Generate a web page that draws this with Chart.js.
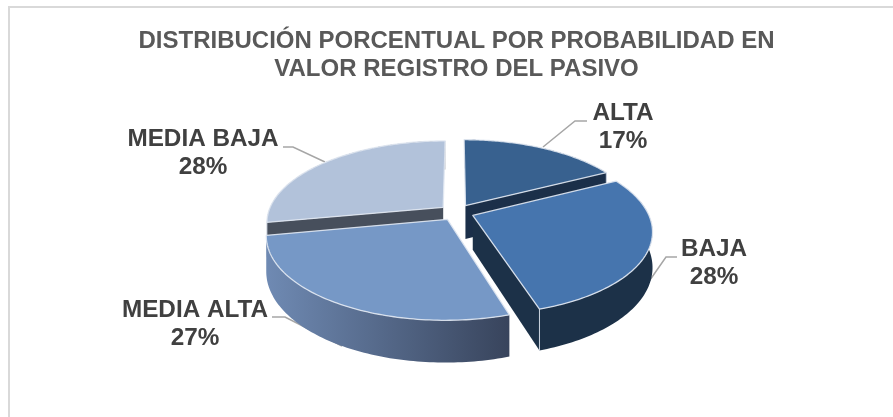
<!DOCTYPE html>
<html>
<head>
<meta charset="utf-8">
<style>
html,body{margin:0;padding:0;background:#fff;width:893px;height:417px;overflow:hidden}
#frame{position:absolute;left:8px;top:6px;right:-4px;bottom:-4px;border-left:2px solid #d9d9d9;border-top:2px solid #d9d9d9;box-sizing:border-box}
#c{position:absolute;left:0;top:0}
</style>
<script src="https://cdn.jsdelivr.net/npm/chart.js@4"></script>
</head>
<body>
<div id="frame"></div>
<canvas id="c" width="893" height="417"></canvas>
<script>
const categories = ["ALTA", "BAJA", "MEDIA ALTA", "MEDIA BAJA"];
const values = [17.4, 27.8, 26.8, 28];
const titleLines = ["DISTRIBUCIÓN PORCENTUAL POR PROBABILIDAD EN", "VALOR REGISTRO DEL PASIVO"];
const topColors = ["#38618f", "#4675ae", "#7698c6", "#b2c2da"];
const sideFrom = ["#1b2f49", "#1c3148", "#6f8ab3", "#474f5c"];
const sideTo = ["#1b2f49", "#1c3148", "#38445c", "#474f5c"];
const drawOrder = [0, 3, 2, 1];
const labelCentres = [[623, 113], [714, 249], [195, 310], [203, 139]];
const leaders = [
  [[587, 121], [575, 121], [543, 147]],
  [[677, 257], [666, 257], [643, 290]],
  [[272, 317], [285, 317], [342, 346]],
  [[283, 147], [293, 147], [325, 162]]
];

const view = {tiltK: 0.18, scaleX: 1.75, scaleY: 0.80, depth: 34};

function projector(arc) {
  const rx = arc.outerRadius * view.scaleX, ry = arc.outerRadius * view.scaleY;
  const mid = (arc.startAngle + arc.endAngle) / 2;
  const e = arc.options.offset / arc.outerRadius;
  const ou = e * Math.cos(mid), ov = e * Math.sin(mid);
  return (u, v, low) => {
    const U = u + ou, V = v + ov;
    const p = 1 / (1 - view.tiltK * V);
    return [arc.x + rx * U * p, arc.y + ry * V * p + (low ? view.depth * p : 0)];
  };
}
function trace(ctx, pts) {
  ctx.beginPath();
  pts.forEach((q, i) => i ? ctx.lineTo(q[0], q[1]) : ctx.moveTo(q[0], q[1]));
  ctx.closePath();
}
function rim(arc, proj, low) {
  const out = [];
  const n = 90;
  for (let i = 0; i <= n; i++) {
    const a = arc.startAngle + (arc.endAngle - arc.startAngle) * i / n;
    out.push(proj(Math.cos(a), Math.sin(a), low));
  }
  return out;
}

const pie3d = {
  id: "pie3d",
  beforeDatasetDraw(chart) {
    const ctx = chart.ctx;
    const arcs = chart.getDatasetMeta(0).data;
    ctx.save();
    ctx.lineJoin = "round";
    drawOrder.forEach(i => {
      const arc = arcs[i], proj = projector(arc);
      const upper = rim(arc, proj, false), lower = rim(arc, proj, true);
      const xs = upper.map(q => q[0]);
      const g = ctx.createLinearGradient(Math.min(...xs), 0, Math.max(...xs), 0);
      g.addColorStop(0, sideFrom[i]);
      g.addColorStop(1, sideTo[i]);
      // outer wall
      trace(ctx, upper.concat(lower.slice().reverse()));
      ctx.fillStyle = g;
      ctx.fill();
      // cut faces that look towards the viewer
      const apexT = proj(0, 0, false), apexB = proj(0, 0, true);
      [[arc.startAngle, -1], [arc.endAngle, 1]].forEach(([a, sign]) => {
        if (sign * Math.sin(a + Math.PI / 2) <= 0) return;
        const eT = proj(Math.cos(a), Math.sin(a), false), eB = proj(Math.cos(a), Math.sin(a), true);
        trace(ctx, [apexT, eT, eB, apexB]);
        ctx.fillStyle = g;
        ctx.fill();
        ctx.strokeStyle = "rgba(225,232,242,0.85)";
        ctx.lineWidth = 1;
        ctx.beginPath();
        ctx.moveTo(eT[0], eT[1]);
        ctx.lineTo(eB[0], eB[1]);
        ctx.stroke();
      });
      // top face
      trace(ctx, [apexT].concat(upper));
      ctx.fillStyle = topColors[i];
      ctx.fill();
      ctx.strokeStyle = "rgba(225,232,242,0.9)";
      ctx.lineWidth = 1.3;
      ctx.stroke();
    });
    ctx.restore();
    return false;
  },
  beforeDatasetsDraw(chart) {
    const ctx = chart.ctx;
    ctx.save();
    ctx.strokeStyle = "#a6a6a6";
    ctx.lineWidth = 1.5;
    leaders.forEach(l => {
      ctx.beginPath();
      l.forEach((q, i) => i ? ctx.lineTo(q[0], q[1]) : ctx.moveTo(q[0], q[1]));
      ctx.stroke();
    });
    ctx.restore();
  },
  afterDatasetsDraw(chart) {
    const ctx = chart.ctx;
    ctx.save();
    ctx.fillStyle = "#404040";
    ctx.font = "bold 24.3px 'Liberation Sans', Arial, sans-serif";
    ctx.textAlign = "center";
    ctx.textBaseline = "middle";
    categories.forEach((name, i) => {
      const [x, y] = labelCentres[i];
      ctx.fillText(name, x, y);
      ctx.fillText(Math.round(values[i]) + "%", x, y + 28.5);
    });
    ctx.restore();
  }
};

new Chart(document.getElementById("c"), {
  type: "pie",
  data: {
    labels: categories,
    datasets: [{data: values, backgroundColor: topColors, offset: 10, borderWidth: 0}]
  },
  options: {
    responsive: false,
    animation: false,
    radius: 100,
    layout: {padding: {left: 20, right: 0, top: 0, bottom: 75.5}},
    plugins: {
      legend: {display: false},
      tooltip: {enabled: false},
      title: {
        display: true,
        text: titleLines,
        color: "#595959",
        font: {family: "'Liberation Sans', Arial, sans-serif", size: 24, weight: "bold", lineHeight: 1.16},
        padding: {top: 27.5, bottom: 0}
      }
    }
  },
  plugins: [pie3d]
});
</script>
</body>
</html>
